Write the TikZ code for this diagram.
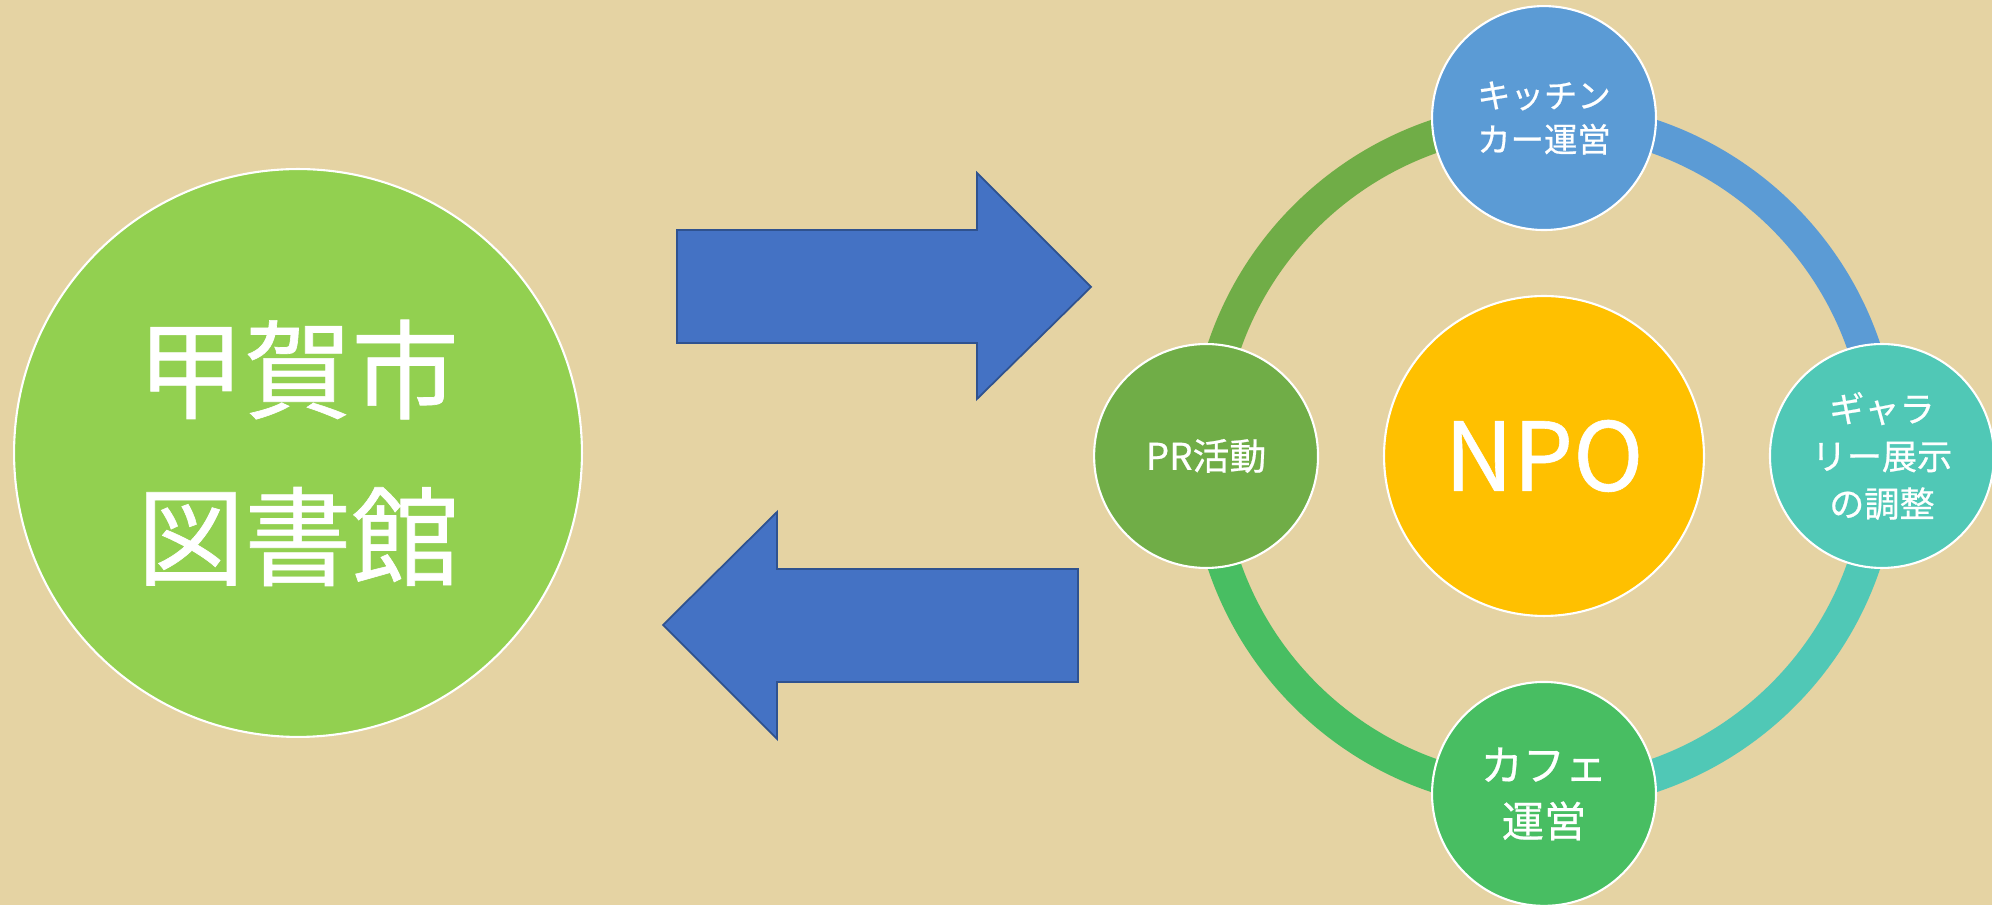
\documentclass[tikz,border=0pt]{standalone}
\usepackage{fontspec}
\setmainfont{Noto Sans CJK JP}[FakeBold=0.6]
\usepackage{xcolor}
\usetikzlibrary{positioning,backgrounds}

\definecolor{paper}{RGB}{229,211,163}
\definecolor{libgreen}{RGB}{146,208,80}
\definecolor{arrowblue}{RGB}{68,114,196}
\definecolor{arrowline}{RGB}{47,82,143}
\definecolor{kitchenblue}{RGB}{91,155,213}
\definecolor{galleryteal}{RGB}{80,200,182}
\definecolor{cafegreen}{RGB}{72,190,98}
\definecolor{prgreen}{RGB}{112,173,71}
\definecolor{npoyellow}{RGB}{255,192,0}

\begin{document}
\begin{tikzpicture}[
    x=0.02cm, y=0.02cm,
    node distance=6.76cm, on grid,
    disc/.style={circle, draw=white, line width=1.2pt, text=white, align=center, inner sep=0pt},
    task/.style={disc, minimum size=4.48cm},
    ring/.style={line width=0.66cm},
    blockarrow/.style={fill=arrowblue, draw=arrowline, line width=1pt}
]
    \useasboundingbox (0,0) rectangle (1992,905);

    \node[disc, fill=libgreen, minimum size=11.36cm, font=\fontsize{61}{95}\selectfont] (library) at (298,452) {甲賀市\\図書館};

    % arrows between library and NPO
    \draw[blockarrow] (677,562) -- (677,675) -- (977,675) -- (977,732) -- (1091,618) -- (977,506) -- (977,562) -- cycle;
    \draw[blockarrow] (1078,223) -- (1078,336) -- (777,336) -- (777,393) -- (663,280) -- (777,166) -- (777,223) -- cycle;

    \node[disc, fill=npoyellow, minimum size=6.4cm, font=\fontsize{54}{60}\selectfont] (npo) at (1544,449) {NPO};

    \node[task, fill=kitchenblue, above=of npo, font=\fontsize{19}{25}\selectfont] (kitchen) {キッチン\\カー運営};
    \node[task, fill=galleryteal, right=of npo, font=\fontsize{20}{27}\selectfont] (gallery) {ギャラ\\リー展示\\の調整};
    \node[task, fill=cafegreen, below=of npo, font=\fontsize{24}{32}\selectfont] (cafe) {カフェ\\運営};
    \node[task, fill=prgreen, left=of npo, font=\fontsize{21}{26}\selectfont] (pr) {PR活動};

    \begin{scope}[on background layer]
        \fill[paper] (0,0) rectangle (1992,905);
        \draw[ring, prgreen] (pr.center) arc[start angle=180, end angle=90, radius=6.76cm];
        \draw[ring, kitchenblue] (kitchen.center) arc[start angle=90, end angle=0, radius=6.76cm];
        \draw[ring, galleryteal] (gallery.center) arc[start angle=0, end angle=-90, radius=6.76cm];
        \draw[ring, cafegreen] (cafe.center) arc[start angle=270, end angle=180, radius=6.76cm];
    \end{scope}
\end{tikzpicture}
\end{document}
